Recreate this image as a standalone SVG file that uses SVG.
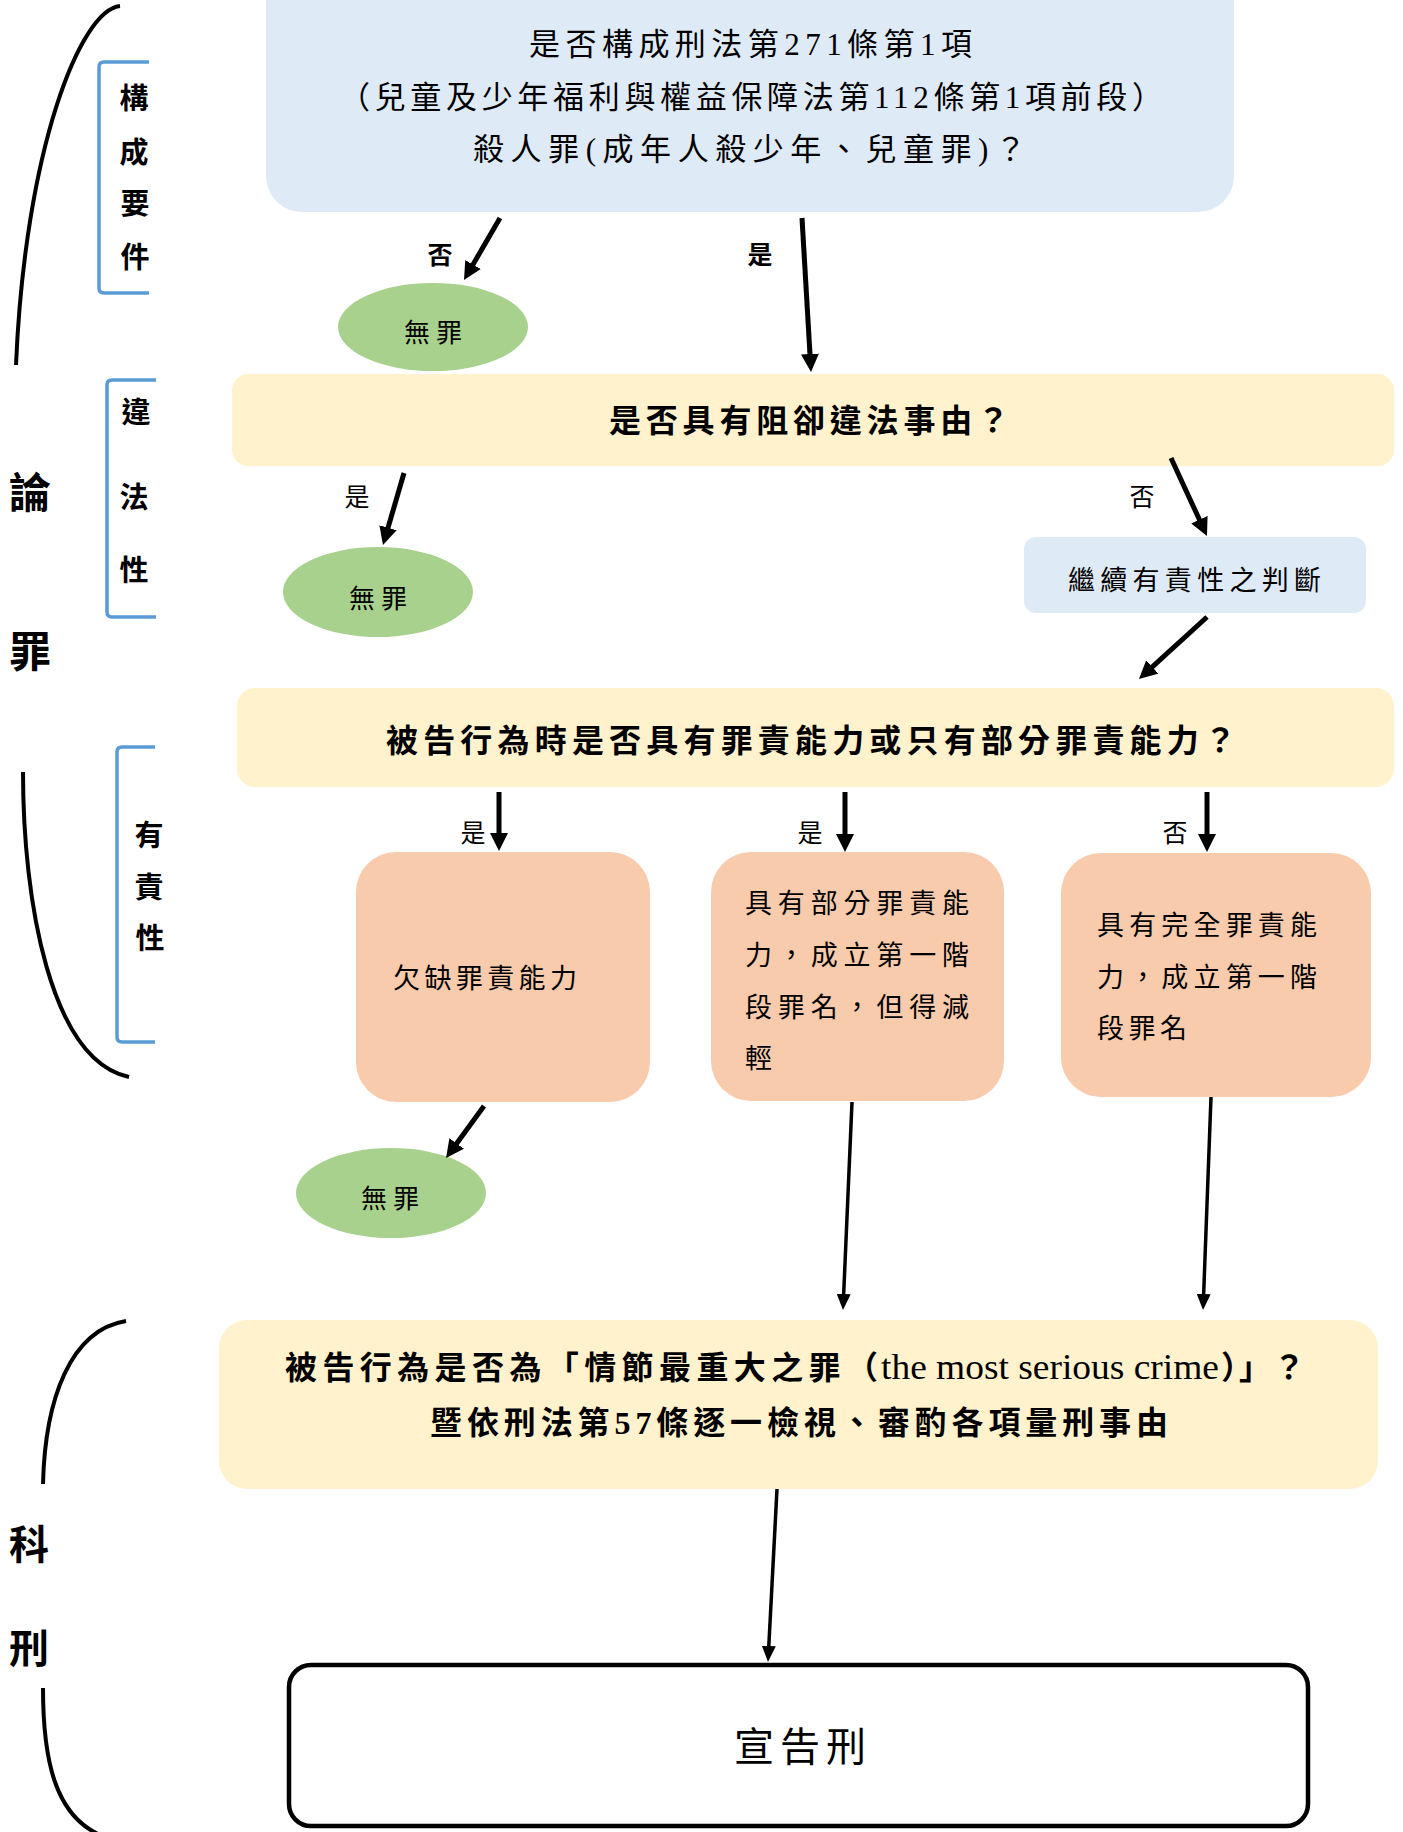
<svg xmlns="http://www.w3.org/2000/svg" width="1403" height="1832" viewBox="0 0 1403 1832">
<defs>
<style>
.t{font-family:"Liberation Serif","Noto Sans CJK TC","Noto Sans CJK SC",serif;fill:#000}
.b{font-weight:bold}
.lab{font-size:25px;text-anchor:middle}
.side{font-size:29px;font-weight:bold;text-anchor:middle}
.big{font-size:42px;font-weight:bold;text-anchor:middle}
.cn{stroke:#000;fill:none}
.thick{stroke-width:5}
.thin{stroke-width:3.5}
.brace{stroke:#000;stroke-width:4;fill:none}
.bracket{stroke:#5B9BD5;stroke-width:3.5;fill:none}
.sal{fill:#F8CBAD}
.yel{fill:#FFF2CC}
.blu{fill:#DEEAF6}
.grn{fill:#A9D18E}
</style>
<marker id="ah" markerUnits="userSpaceOnUse" markerWidth="18" markerHeight="18" refX="4" refY="9" orient="auto"><path d="M0,0 L18,9 L0,18 z" fill="#000"/></marker>
<marker id="ah2" markerUnits="userSpaceOnUse" markerWidth="16" markerHeight="14" refX="4" refY="7" orient="auto"><path d="M0,0 L16,7 L0,14 z" fill="#000"/></marker>
</defs>
<rect width="1403" height="1832" fill="#fff"/>

<g id="side-labels">
<path class="brace" d="M120,6 C80,10 25,150 16,365"/>
<path class="brace" d="M23,772 C23,900 50,1060 129,1077"/>
<path class="brace" d="M126,1321 C70,1330 45,1400 43,1484"/>
<path class="brace" d="M43,1688 C43,1760 55,1815 100,1835"/>
<text class="t big" x="30" y="508">論</text>
<text class="t big" x="30" y="667">罪</text>
<text class="t big" x="29" y="1559" style="font-size:40px">科</text>
<text class="t big" x="29" y="1663" style="font-size:40px">刑</text>
<path class="bracket" d="M149,62 L104,62 Q99,62 99,67 L99,288 Q99,293 104,293 L149,293"/>
<path class="bracket" d="M156,380 L112,380 Q107,380 107,385 L107,612 Q107,617 112,617 L156,617"/>
<path class="bracket" d="M155,747 L122,747 Q117,747 117,752 L117,1037 Q117,1042 122,1042 L155,1042"/>
<text class="t side" x="134" y="109">構</text>
<text class="t side" x="134" y="163">成</text>
<text class="t side" x="135" y="214">要</text>
<text class="t side" x="135" y="268">件</text>
<text class="t side" x="136" y="423">違</text>
<text class="t side" x="134" y="508">法</text>
<text class="t side" x="134" y="581">性</text>
<text class="t side" x="149" y="846">有</text>
<text class="t side" x="149" y="898">責</text>
<text class="t side" x="150" y="949">性</text>
</g>

<g id="node-q1">
<rect class="blu" x="266" y="-40" width="968" height="252" rx="36"/>
<text class="t" font-size="31" x="529" y="55" textLength="443" lengthAdjust="spacing">是否構成刑法第271條第1項</text>
<text class="t" font-size="31" x="339" y="108" textLength="824" lengthAdjust="spacing">（兒童及少年福利與權益保障法第112條第1項前段）</text>
<text class="t" font-size="31" x="473" y="160" textLength="553" lengthAdjust="spacing">殺人罪(成年人殺少年、兒童罪)？</text>
</g>

<g id="node-innocent1">
<ellipse class="grn" cx="433" cy="327" rx="95" ry="44"/>
<text class="t" font-size="26" x="404" y="342" textLength="58" lengthAdjust="spacing">無罪</text>
</g>

<g id="node-q2">
<rect class="yel" x="232" y="374" width="1162" height="92" rx="16"/>
<text class="t b" font-size="32" x="609" y="432" textLength="400" lengthAdjust="spacing">是否具有阻卻違法事由？</text>
</g>

<g id="node-innocent2">
<ellipse class="grn" cx="378" cy="592" rx="95" ry="45"/>
<text class="t" font-size="26" x="349" y="608" textLength="58" lengthAdjust="spacing">無罪</text>
</g>

<g id="node-continue">
<rect class="blu" x="1024" y="537" width="342" height="76" rx="12"/>
<text class="t" font-size="27" x="1068" y="590" textLength="253" lengthAdjust="spacing">繼續有責性之判斷</text>
</g>

<g id="node-q3">
<rect class="yel" x="237" y="688" width="1157" height="99" rx="18"/>
<text class="t b" font-size="32" x="386" y="752" textLength="850" lengthAdjust="spacing">被告行為時是否具有罪責能力或只有部分罪責能力？</text>
</g>

<g id="node-lack">
<rect class="sal" x="356" y="852" width="294" height="250" rx="40"/>
<text class="t" font-size="27" x="393" y="988" textLength="184" lengthAdjust="spacing">欠缺罪責能力</text>
</g>

<g id="node-partial">
<rect class="sal" x="711" y="852" width="293" height="249" rx="40"/>
<text class="t" font-size="27" x="745" y="913" textLength="224" lengthAdjust="spacing">具有部分罪責能</text>
<text class="t" font-size="27" x="745" y="965" textLength="224" lengthAdjust="spacing">力，成立第一階</text>
<text class="t" font-size="27" x="745" y="1017" textLength="224" lengthAdjust="spacing">段罪名，但得減</text>
<text class="t" font-size="27" x="745" y="1068">輕</text>
</g>

<g id="node-full">
<rect class="sal" x="1061" y="853" width="310" height="244" rx="40"/>
<text class="t" font-size="27" x="1097" y="935" textLength="220" lengthAdjust="spacing">具有完全罪責能</text>
<text class="t" font-size="27" x="1097" y="987" textLength="220" lengthAdjust="spacing">力，成立第一階</text>
<text class="t" font-size="27" x="1097" y="1038" textLength="90" lengthAdjust="spacing">段罪名</text>
</g>

<g id="node-innocent3">
<ellipse class="grn" cx="391" cy="1193" rx="95" ry="45"/>
<text class="t" font-size="26" x="361" y="1208" textLength="58" lengthAdjust="spacing">無罪</text>
</g>

<g id="node-q4">
<rect class="yel" x="219" y="1320" width="1159" height="169" rx="28"/>
<text class="t b" font-size="32" x="285" y="1379" textLength="593" lengthAdjust="spacing">被告行為是否為「情節最重大之罪（</text>
<text class="t" font-size="36" x="881" y="1379" textLength="338" lengthAdjust="spacingAndGlyphs">the most serious crime</text>
<text class="t b" font-size="32" x="1221" y="1379" textLength="84" lengthAdjust="spacing">）」？</text>
<text class="t b" font-size="32" x="430" y="1434" textLength="738" lengthAdjust="spacing">暨依刑法第57條逐一檢視、審酌各項量刑事由</text>
</g>

<g id="node-sentence">
<rect x="289" y="1665" width="1019" height="161" rx="22" fill="#fff" stroke="#000" stroke-width="4.5"/>
<text class="t" font-size="40" x="734" y="1761" textLength="132" lengthAdjust="spacing">宣告刑</text>
</g>

<g id="connectors">
<line class="cn thick" x1="500" y1="218" x2="471" y2="268" marker-end="url(#ah)"/>
<line class="cn thick" x1="802" y1="218" x2="810.2" y2="358" marker-end="url(#ah)"/>
<line class="cn thick" x1="404" y1="473" x2="386.9" y2="531.6" marker-end="url(#ah)"/>
<line class="cn thick" x1="1171" y1="458" x2="1201.1" y2="523.3" marker-end="url(#ah)"/>
<line class="cn thick" x1="1207" y1="617" x2="1149.3" y2="669.6" marker-end="url(#ah)"/>
<line class="cn thick" x1="499" y1="792" x2="499" y2="837" marker-end="url(#ah)"/>
<line class="cn thick" x1="845" y1="792" x2="845" y2="838" marker-end="url(#ah)"/>
<line class="cn thick" x1="1207" y1="792" x2="1207" y2="838" marker-end="url(#ah)"/>
<line class="cn thick" x1="484" y1="1106" x2="454.3" y2="1146.7" marker-end="url(#ah)"/>
<line class="cn thin" x1="852" y1="1102" x2="843.5" y2="1298" marker-end="url(#ah2)"/>
<line class="cn thin" x1="1211" y1="1097" x2="1203.5" y2="1298" marker-end="url(#ah2)"/>
<line class="cn thin" x1="777" y1="1489" x2="768.6" y2="1650" marker-end="url(#ah2)"/>
<text class="t lab b" x="440" y="264">否</text>
<text class="t lab b" x="760" y="264">是</text>
<text class="t lab" x="357" y="506">是</text>
<text class="t lab" x="1142" y="506">否</text>
<text class="t lab" x="473" y="842">是</text>
<text class="t lab" x="810" y="842">是</text>
<text class="t lab" x="1175" y="842">否</text>
</g>
</svg>
